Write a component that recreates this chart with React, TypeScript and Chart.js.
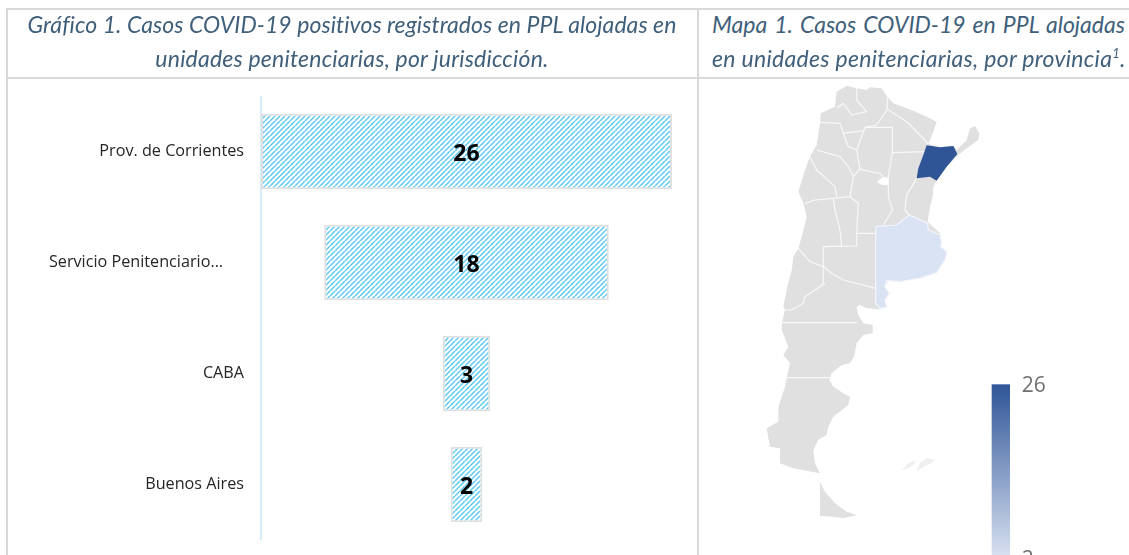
import React, { useEffect, useRef } from "react";
import { Chart, registerables } from "chart.js";

Chart.register(...registerables);

// ---------- bar chart data ----------
const categories = ["Prov. de Corrientes", "Servicio Penitenciario…", "CABA", "Buenos Aires"];
const casos = [26, 18, 3, 2];
const tickGapLabel = "Servicio Penitenciario…";

// ---------- titles ----------
const titleLeft = ["Gráfico 1. Casos COVID-19 positivos registrados en PPL alojadas en", "unidades penitenciarias, por jurisdicción."];
const titleRight1 = "Mapa 1. Casos COVID-19 en PPL alojadas";
const titleRight2 = "en unidades penitenciarias, por provincia";

// ---------- map data (map units) ----------
type P = [number, number];
const outline: P[] = [[410,65],[440,47],[470,55],[500,60],[510,52],[545,55],[562,80],[580,100],[640,122],[680,140],[710,155],[700,185],[685,222],[720,232],[760,228],[770,240],[800,210],[810,175],[825,168],[838,190],[835,210],[800,235],[775,255],[740,290],[710,330],[700,350],[698,380],[690,410],[683,455],[720,490],[725,510],[722,530],[742,545],[735,570],[710,610],[660,625],[600,635],[565,632],[555,650],[568,670],[555,690],[560,712],[540,718],[500,715],[480,705],[470,710],[475,735],[490,760],[518,765],[518,790],[490,795],[470,820],[462,860],[450,880],[425,885],[395,910],[388,930],[400,950],[430,970],[450,980],[445,1005],[400,1040],[385,1070],[380,1095],[355,1110],[340,1140],[345,1180],[360,1210],[280,1195],[240,1180],[240,1135],[210,1130],[200,1075],[235,1055],[235,1010],[255,950],[260,925],[270,880],[250,855],[265,830],[245,780],[245,760],[255,720],[250,710],[262,650],[275,600],[280,560],[295,535],[305,500],[320,440],[310,400],[295,365],[315,300],[330,260],[350,225],[360,160],[362,130],[405,110]];
const tierraDelFuego: P[] = [[360,1235],[375,1265],[405,1300],[440,1325],[470,1335],[430,1345],[400,1340],[360,1338]];
const malvinasWest: P[] = [[605,1200],[625,1180],[648,1170],[640,1185],[625,1195]];
const malvinasEast: P[] = [[648,1205],[660,1178],[680,1165],[705,1170],[690,1182],[668,1192]];
const marChiquita: P[] = [[530,335],[550,320],[568,325],[565,345],[545,345]];
const corrientes: P[] = [[680,226],[720,232],[760,228],[772,252],[740,290],[710,332],[690,320],[650,325],[655,295],[670,255]];
const buenosAires: P[] = [[527,470],[590,465],[628,435],[683,460],[685,480],[720,495],[725,515],[722,530],[742,545],[735,570],[710,608],[660,625],[600,635],[560,632],[555,650],[568,670],[555,690],[560,712],[540,715],[527,700]];
const borders: P[][] = [
  [[470,55],[470,90],[500,125],[455,135],[430,100],[410,115]],
  [[562,80],[562,118],[530,165],[495,172],[470,240],[480,298],[540,310],[550,320]],
  [[562,118],[620,155],[660,195],[685,222]],
  [[495,172],[577,172],[577,248],[565,320],[565,380],[578,420],[550,465]],
  [[577,248],[680,245]],
  [[650,325],[620,375],[615,420],[628,435]],
  [[480,298],[460,320],[450,380],[475,400],[470,490],[527,490]],
  [[370,530],[470,528],[470,490]],
  [[370,530],[370,640]],
  [[370,590],[395,610],[430,630],[527,655]],
  [[400,385],[405,420],[420,480],[425,528],[370,530]],
  [[400,385],[450,380]],
  [[315,400],[345,390],[400,385]],
  [[330,260],[350,300],[405,350],[410,380]],
  [[350,240],[420,260],[445,290],[460,320]],
  [[430,190],[445,230],[470,240]],
  [[430,190],[490,182]],
  [[360,157],[420,160],[430,190]],
  [[295,535],[330,575],[370,590]],
  [[375,640],[315,680],[310,700],[275,720],[255,720]],
  [[245,758],[470,758]],
  [[258,923],[390,923]],
];
const legendMax = 26;
const legendMin = 2;

const toPts = (a: P[]) => a.map(([x, y]) => ({ x, y }));

function hatch(): CanvasPattern | string {
  const n = 5;
  const c = document.createElement("canvas");
  c.width = n; c.height = n;
  const g = c.getContext("2d")!;
  g.fillStyle = "#fff"; g.fillRect(0, 0, n, n);
  g.strokeStyle = "#5cc9f2"; g.lineWidth = 1.5;
  for (const o of [-n, 0, n]) { g.beginPath(); g.moveTo(o, n); g.lineTo(o + n, 0); g.stroke(); }
  return g.createPattern(c, "repeat")!;
}

const barLabels = {
  id: "barLabels",
  afterDatasetsDraw(chart: any) {
    const g = chart.ctx;
    const els = chart.getDatasetMeta(0).data;
    g.save();
    g.font = "bold 23px 'Open Sans'";
    g.fillStyle = "#000";
    g.textAlign = "center"; g.textBaseline = "middle";
    els.forEach((e: any, i: number) => g.fillText(String(casos[i]), (e.x + e.base) / 2, e.y + 3));
    g.restore();
  },
};

const polygons = {
  id: "polygons",
  beforeDatasetsDraw(chart: any) {
    const g = chart.ctx, xs = chart.scales.x, ys = chart.scales.y;
    g.save();
    chart.data.datasets.forEach((d: any) => {
      g.beginPath();
      d.data.forEach((p: any, i: number) => {
        const X = xs.getPixelForValue(p.x), Y = ys.getPixelForValue(p.y);
        if (i) g.lineTo(X, Y); else g.moveTo(X, Y);
      });
      if (d.areaFill) { g.closePath(); g.fillStyle = d.areaFill; g.fill(); }
      else { g.strokeStyle = d.lineColor; g.lineWidth = 1.2; g.lineJoin = "round"; g.stroke(); }
    });
    // colour legend
    const x0 = xs.getPixelForValue(875), x1 = xs.getPixelForValue(930);
    const y0 = ys.getPixelForValue(943), y1 = ys.getPixelForValue(1455);
    const gr = g.createLinearGradient(0, y0, 0, y1);
    gr.addColorStop(0, "#2f5597"); gr.addColorStop(1, "#d6dff0");
    g.fillStyle = gr; g.fillRect(x0, y0, x1 - x0, y1 - y0);
    g.fillStyle = "#707070"; g.font = "21px 'Open Sans'"; g.textBaseline = "middle";
    g.fillText(String(legendMax), xs.getPixelForValue(965), y0 + 2);
    g.fillText(String(legendMin), xs.getPixelForValue(965), y1 + 5);
    g.restore();
  },
};

const titleStyle: React.CSSProperties = {
  position: "absolute", fontFamily: "Lato, 'Open Sans', sans-serif", fontStyle: "italic",
  fontSize: 23, lineHeight: "34px", color: "#3f5f7a", whiteSpace: "nowrap",
};
const rule = (l: number, t: number, w: number, h: number) => (
  <div style={{ position: "absolute", left: l, top: t, width: w, height: h, background: "#d9d9d9" }} />
);

export default function App() {
  const barRef = useRef<HTMLCanvasElement>(null);
  const mapRef = useRef<HTMLCanvasElement>(null);

  useEffect(() => {
    const bar = new Chart(barRef.current!, {
      type: "bar",
      data: {
        labels: categories,
        datasets: [{
          data: casos.map((v) => [-v / 2, v / 2]) as any,
          backgroundColor: hatch() as any,
          borderColor: "#e0e0e0",
          borderWidth: 2,
          borderSkipped: false,
          barPercentage: 0.68,
          categoryPercentage: 1,
        }],
      },
      options: {
        indexAxis: "y",
        animation: false,
        responsive: false,
        layout: { padding: { top: 0, bottom: 0, right: 25, left: 0 } },
        plugins: { legend: { display: false }, tooltip: { enabled: false } },
        scales: {
          x: { min: -13, max: 13, display: false },
          y: {
            afterFit: (s: any) => { s.width = 261; s.paddingTop = 0; s.paddingBottom = 0; },
            grid: { display: false, drawTicks: false },
            border: { display: true, color: "#d5eefa", width: 2 },
            ticks: {
              padding: 17,
              color: "#262626",
              font: { family: "'Open Sans'", size: 16.2 },
              callback: (_: any, i: number) => categories[i] === tickGapLabel ? categories[i] + "\u00a0\u00a0\u00a0\u00a0\u00a0" : categories[i],
            },
          },
        },
      },
      plugins: [barLabels],
    } as any);

    const poly = (data: P[], fill: string) => ({ data: toPts(data), areaFill: fill, showLine: false, pointRadius: 0 });
    const line = (data: P[], color: string) => ({ data: toPts(data), lineColor: color, showLine: false, pointRadius: 0 });
    const map = new Chart(mapRef.current!, {
      type: "scatter",
      data: {
        datasets: [
          poly(outline, "#e0e0e0"),
          poly(tierraDelFuego, "#e0e0e0"),
          poly(malvinasWest, "#efefef"),
          poly(malvinasEast, "#efefef"),
          poly(marChiquita, "#ffffff"),
          ...borders.map((b) => line(b, "#f8f8f8")),
          poly(buenosAires, "#dae3f3"),
          line([...buenosAires, buenosAires[0]], "#f4f6fb"),
          poly(corrientes, "#2f5597"),
        ],
      },
      options: {
        animation: false,
        responsive: false,
        layout: { padding: 0 },
        plugins: { legend: { display: false }, tooltip: { enabled: false } },
        scales: {
          x: { type: "linear", min: 0, max: 1287, display: false },
          y: { type: "linear", min: 0, max: 1455, reverse: true, display: false },
        },
      },
      plugins: [polygons],
    } as any);

    return () => { bar.destroy(); map.destroy(); };
  }, []);

  return (
    <div style={{ position: "fixed", left: 0, top: 0, width: 1129, height: 555, overflow: "hidden", background: "#fff" }}>
      <canvas ref={barRef} width={697} height={444} style={{ position: "absolute", left: 0, top: 96, width: 697, height: 444 }} />
      <canvas ref={mapRef} width={429} height={485} style={{ position: "absolute", left: 700, top: 70, width: 429, height: 485, filter: "blur(0.4px)" }} />
      {rule(6, 8, 1123, 2)}
      {rule(6, 77, 1123, 2)}
      {rule(6, 8, 2, 547)}
      {rule(697, 8, 2, 547)}
      <div style={{ ...titleStyle, letterSpacing: 0.06, left: 7, width: 690, top: 7, textAlign: "center" }}>{titleLeft[0]}</div>
      <div style={{ ...titleStyle, letterSpacing: 0.2, left: 7, width: 690, top: 41, textAlign: "center" }}>{titleLeft[1]}</div>
      <div style={{ ...titleStyle, left: 712, width: 413, top: 7, whiteSpace: "normal", textAlign: "justify", textAlignLast: "justify" }}>{titleRight1}</div>
      <div style={{ ...titleStyle, letterSpacing: 0.3, left: 712, top: 41 }}>{titleRight2}<sup style={{ fontSize: 13, lineHeight: 0 }}>1</sup>.</div>
    </div>
  );
}
